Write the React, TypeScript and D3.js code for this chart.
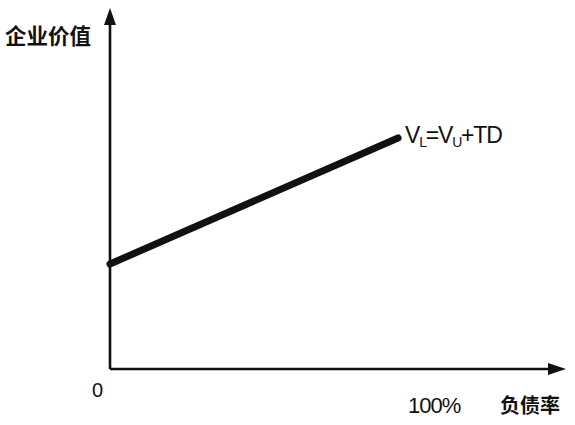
import React from "react";
import * as d3 from "d3";

const debtRatio = [0, 100];
const firmValue = [30, 66];
const yAxisLabel = "企业价值";
const xAxisLabel = "负债率";
const xTickLabels = ["0", "100%"];

const W = 575;
const H = 425;
const originX = 110;
const originY = 369;

export default function App() {
  const x = d3.scaleLinear().domain([0, 100]).range([originX, 398]);
  const y = d3.scaleLinear().domain([0, 100]).range([originY, 19]);
  const pts = debtRatio.map((d, i) => [d, firmValue[i]] as [number, number]);
  const line = d3
    .line<[number, number]>()
    .x((d) => x(d[0]))
    .y((d) => y(d[1]));

  const font = "'Liberation Sans', Arial, sans-serif";
  const cjk = "'Noto Sans CJK SC', sans-serif";

  return (
    <svg
      width={W}
      height={H}
      style={{ position: "absolute", left: 0, top: 0, background: "#fff" }}
    >
      {/* y axis */}
      <line x1={originX} y1={originY} x2={originX} y2={22} stroke="#111" strokeWidth={2.6} />
      <path d={`M${originX},8 L${originX - 6},25 L${originX + 6},25 Z`} fill="#111" />
      {/* x axis */}
      <line x1={originX} y1={originY} x2={550} y2={originY} stroke="#111" strokeWidth={2.6} />
      <path d={`M566,${originY} L548,${originY - 6} L548,${originY + 6} Z`} fill="#111" />

      {/* data line */}
      <path d={line(pts) ?? ""} fill="none" stroke="#111" strokeWidth={7} strokeLinecap="round" />

      {/* labels */}
      <text x={5} y={44} fontFamily={cjk} fontSize={21.5} fontWeight={700} fill="#111">
        {yAxisLabel}
      </text>
      <text x={x(0) - 18} y={397} fontFamily={font} fontSize={20} fill="#111">
        {xTickLabels[0]}
      </text>
      <text x={x(100) + 10} y={413} fontFamily={font} fontSize={22} fill="#111" letterSpacing={-1}>
        {xTickLabels[1]}
      </text>
      <text x={x(100) + 102} y={413} fontFamily={cjk} fontSize={20} fontWeight={700} fill="#111">
        {xAxisLabel}
      </text>

      <text x={x(100) + 7} y={143} fontFamily={font} fontSize={23} fill="#111" letterSpacing={-1.2}>
        V
        <tspan fontSize={14} dy={4} fill="#111">L</tspan>
        <tspan dy={-4}>=V</tspan>
        <tspan fontSize={14} dy={4} fill="#111">U</tspan>
        <tspan dy={-4}>+TD</tspan>
      </text>
    </svg>
  );
}
